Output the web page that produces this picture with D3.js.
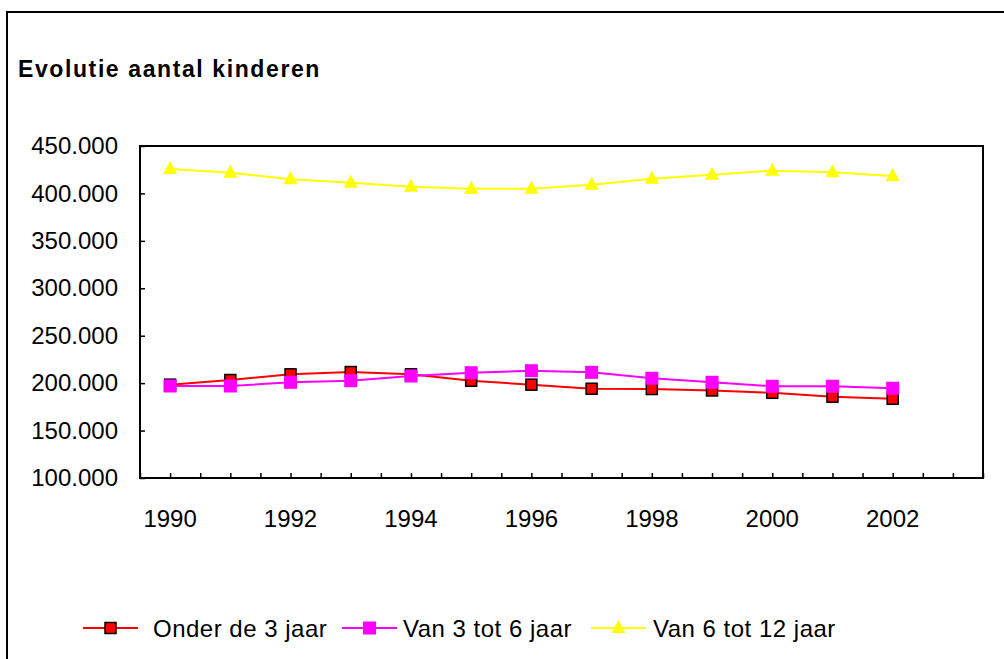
<!DOCTYPE html>
<html>
<head>
<meta charset="utf-8">
<script src="https://cdn.jsdelivr.net/npm/d3@7"></script>
<style>
  body { margin: 0; background: #fff; }
  svg { display: block; font-family: "Liberation Sans", Arial, sans-serif; }
</style>
</head>
<body>
<svg width="1004" height="659"></svg>
<script>
var years = [1990, 1991, 1992, 1993, 1994, 1995, 1996, 1997, 1998, 1999, 2000, 2001, 2002];
var yearLabels = [1990, 1992, 1994, 1996, 1998, 2000, 2002];
var yTicks = [100000, 150000, 200000, 250000, 300000, 350000, 400000, 450000];

var onder3 = [198400, 203300, 209300, 211700, 209300, 202500, 198400, 194100, 193800, 192300, 189800, 185700, 183500];
var van3tot6 = [197000, 197000, 200900, 202600, 207500, 211000, 213100, 211400, 205100, 200900, 196700, 196700, 194600];
var van6tot12 = [425700, 421800, 414900, 411300, 407100, 405000, 405000, 409200, 415500, 419700, 424000, 422300, 418400];

var series = [
  { name: 'Onder de 3 jaar', values: onder3, color: '#ff0000', marker: 'square', stroke: '#000' },
  { name: 'Van 3 tot 6 jaar', values: van3tot6, color: '#ff00ff', marker: 'square', stroke: 'none' },
  { name: 'Van 6 tot 12 jaar', values: van6tot12, color: '#ffff00', marker: 'triangle', stroke: 'none' }
];

var svg = d3.select('svg');

var nl = d3.formatLocale({ decimal: ',', thousands: '.', grouping: [3], currency: ['', ''] });

var plotLeft = 140, plotRight = 983, plotTop = 146, plotBottom = 478;

var x = d3.scaleLinear()
  .domain([1989.5, 2003.5])
  .range([plotLeft, plotRight]);

var y = d3.scaleLinear()
  .domain([100000, 450000])
  .range([plotBottom, plotTop]);

// outer frame
svg.append('rect')
  .attr('x', 7).attr('y', 12)
  .attr('width', 1010).attr('height', 660)
  .attr('fill', 'none')
  .attr('stroke', '#000')
  .attr('stroke-width', 2);

svg.append('text')
  .attr('x', 18).attr('y', 77)
  .attr('font-size', 23)
  .attr('font-weight', 'bold')
  .attr('letter-spacing', 1.6)
  .text('Evolutie aantal kinderen');

// y axis
var yAxis = d3.axisRight(y)
  .tickValues(yTicks)
  .tickSize(5)
  .tickFormat(function(d) { return nl.format(',')(d); });

var gy = svg.append('g')
  .attr('transform', 'translate(' + plotLeft + ',0)')
  .call(yAxis);
gy.select('.domain').remove();
gy.selectAll('.tick line').attr('stroke', '#000').attr('stroke-width', 1.5);
gy.selectAll('.tick text')
  .attr('x', -22)
  .attr('text-anchor', 'end')
  .attr('font-size', 24)
  .attr('font-family', '"Liberation Sans", Arial, sans-serif')
  .attr('fill', '#000');

// x axis
var xAxis = d3.axisTop(x)
  .tickValues(d3.range(1989.5, 2003.6, 0.5))
  .tickSize(5)
  .tickFormat('');

var gx = svg.append('g')
  .attr('transform', 'translate(0,' + plotBottom + ')')
  .call(xAxis);
gx.select('.domain').remove();
gx.selectAll('.tick line').attr('stroke', '#000').attr('stroke-width', 1.5);

svg.append('g').selectAll('text')
  .data(yearLabels)
  .enter().append('text')
  .attr('x', function(d) { return x(d); })
  .attr('y', 527)
  .attr('text-anchor', 'middle')
  .attr('font-size', 24)
  .text(function(d) { return d; });

// plot frame
svg.append('rect')
  .attr('x', plotLeft).attr('y', plotTop)
  .attr('width', plotRight - plotLeft).attr('height', plotBottom - plotTop)
  .attr('fill', 'none')
  .attr('stroke', '#000')
  .attr('stroke-width', 2);

var line = d3.line()
  .x(function(d, i) { return x(years[i]); })
  .y(function(d) { return y(d); });

function drawMarker(g, s, cx, cy) {
  if (s.marker === 'square') {
    var sz = s.stroke === 'none' ? 13 : 11;
    g.append('rect')
      .attr('x', cx - sz / 2).attr('y', cy - sz / 2)
      .attr('width', sz).attr('height', sz)
      .attr('fill', s.color)
      .attr('stroke', s.stroke)
      .attr('stroke-width', s.stroke === 'none' ? 0 : 1.5);
  } else {
    g.append('path')
      .attr('d', 'M' + cx + ',' + (cy - 8) + 'L' + (cx + 7) + ',' + (cy + 5) + 'L' + (cx - 7) + ',' + (cy + 5) + 'Z')
      .attr('fill', s.color);
  }
}

series.forEach(function(s) {
  var g = svg.append('g');
  g.append('path')
    .datum(s.values)
    .attr('d', line)
    .attr('fill', 'none')
    .attr('stroke', s.color)
    .attr('stroke-width', 2);
  s.values.forEach(function(v, i) {
    drawMarker(g, s, x(years[i]), y(v));
  });
});

// legend
var legendX = [83, 342, 591];
var legendTextX = [153, 403, 653];
series.forEach(function(s, i) {
  var g = svg.append('g');
  var lx = legendX[i], ly = 628;
  g.append('line')
    .attr('x1', lx).attr('x2', lx + 55)
    .attr('y1', ly).attr('y2', ly)
    .attr('stroke', s.color)
    .attr('stroke-width', 2);
  drawMarker(g, s, lx + 27.5, ly);
  g.append('text')
    .attr('x', legendTextX[i])
    .attr('y', ly + 8.5)
    .attr('font-size', 24)
    .attr('letter-spacing', 0.5)
    .text(s.name);
});
</script>
</body>
</html>
